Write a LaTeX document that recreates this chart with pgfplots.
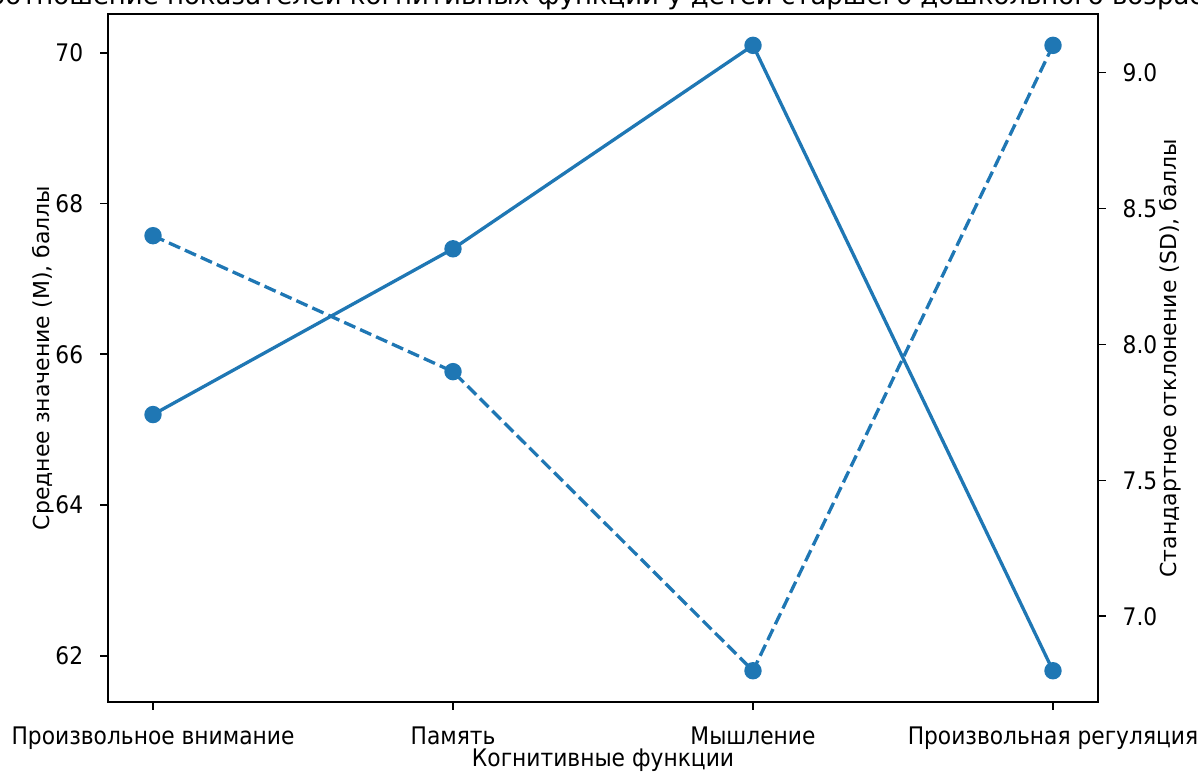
\documentclass[border=0pt]{standalone}
\usepackage{fontspec}
\setmainfont{DejaVu Sans}
\newfontfamily\narrowfont[FakeStretch=0.9]{DejaVu Sans}
\usepackage{pgfplots}
\pgfplotsset{compat=1.18}
\definecolor{tabblue}{HTML}{1F77B4}

\pgfplotsset{
  common/.style={
    scale only axis, width=450pt, height=312.7pt,
    xmin=-0.15, xmax=3.15,
    tick align=outside, major tick length=3.5pt,
    every tick/.style={black, line width=0.8pt},
    axis line style={line width=0.8pt},
    /pgf/number format/assume math mode=true,
    ticklabel style={font=\narrowfont\fontsize{11}{13}\selectfont},
    label style={font=\fontsize{10.5}{12}\selectfont},
  },
}

\begin{document}
\begin{tikzpicture}
\useasboundingbox (-49.1pt,-32.3pt) rectangle (495.45pt,319.1pt);
\clip (-49.1pt,-32.3pt) rectangle (495.45pt,319.1pt);

% mean values, left axis
\begin{axis}[
  common,
  ymin=61.385, ymax=70.515,
  xtick={0,1,2,3},
  xticklabels={Произвольное внимание, Память, Мышление, Произвольная регуляция},
  ytick={62,64,66,68,70},
  xtick pos=bottom, ytick pos=left,
  xticklabel style={anchor=base, yshift=-15.9pt},
  yticklabel style={anchor=east, inner sep=0pt, xshift=-7.6pt},
  xlabel={Когнитивные функции},
  ylabel={Среднее значение (М), баллы},
  every axis x label/.style={at={(axis description cs:0.5,0)}, anchor=base, yshift=-29.3pt, font=\narrowfont\fontsize{11}{13}\selectfont},
  every axis y label/.style={at={(axis description cs:0,0.5)}, rotate=90, anchor=center, yshift=29.3pt},
]
\addplot[color=tabblue, line width=1.5pt, mark=*, mark size=3.2pt]
  coordinates {(0,65.2)(1,67.4)(2,70.1)(3,61.8)};
\end{axis}

% standard deviations, right axis
\begin{axis}[
  common,
  ymin=6.685, ymax=9.215,
  axis x line=none, axis y line*=right,
  ytick={7.0,7.5,8.0,8.5,9.0},
  yticklabels={7.0,7.5,8.0,8.5,9.0},
  yticklabel style={anchor=west, inner sep=0pt, xshift=7.5pt},
  ylabel={Стандартное отклонение (SD), баллы},
  every axis y label/.style={at={(axis description cs:1,0.5)}, rotate=90, anchor=center, yshift=-32.7pt},
]
\addplot[color=tabblue, line width=1.5pt, dash pattern=on 5.55pt off 2.4pt, mark=*, mark size=3.2pt, mark options={solid}]
  coordinates {(0,8.4)(1,7.9)(2,6.8)(3,9.1)};
\end{axis}

\node[anchor=base, font=\fontsize{11.8}{14}\selectfont] at (225pt,316.9pt)
  {Соотношение показателей когнитивных функций у детей старшего дошкольного возраста};
\end{tikzpicture}
\end{document}
